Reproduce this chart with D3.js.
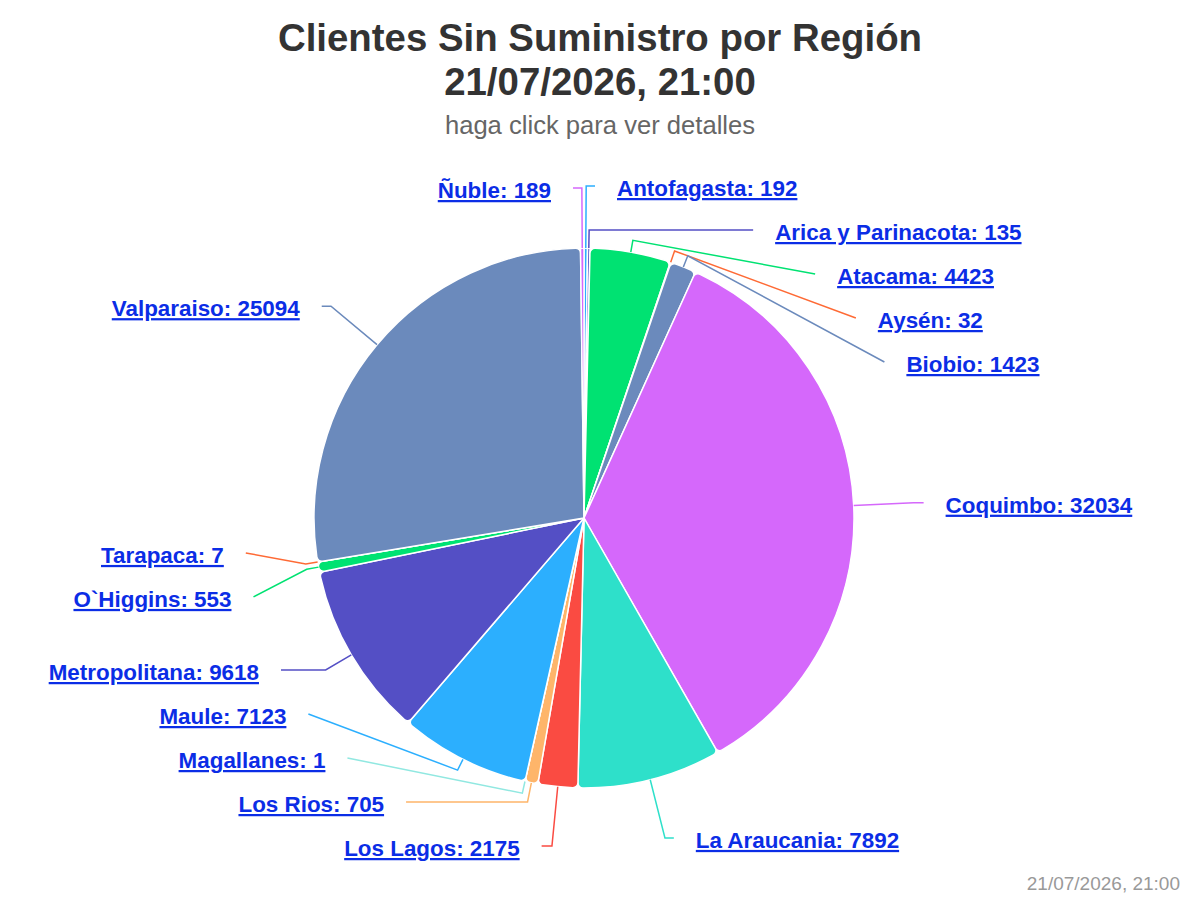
<!DOCTYPE html>
<html>
<head>
<meta charset="utf-8">
<script src="https://cdn.jsdelivr.net/npm/d3@7"></script>
<style>
  body { margin: 0; background: #fff; }
  text { font-family: "Liberation Sans", Arial, Helvetica, sans-serif; }
</style>
</head>
<body>
<div id="chart"></div>
<script>
// data
const regions = ["Antofagasta", "Arica y Parinacota", "Atacama", "Aysén", "Biobio", "Coquimbo",
    "La Araucania", "Los Lagos", "Los Rios", "Magallanes", "Maule", "Metropolitana",
    "O`Higgins", "Tarapaca", "Valparaiso", "Ñuble"];
const clients = [192, 135, 4423, 32, 1423, 32034, 7892, 2175, 705, 1, 7123, 9618, 553, 7, 25094, 189];
const colors = ["#2caffe", "#544fc5", "#00e272", "#fe6a35", "#6b8abc", "#d568fb", "#2ee0ca",
    "#fa4b42", "#feb56a", "#91e8e1"];
const titleLines = ["Clientes Sin Suministro por Región", "21/07/2026, 21:00"];
const subtitle = "haga click para ver detalles";
const credits = "21/07/2026, 21:00";

const width = 1200, height = 900;
const cx = 584, cy = 518, radius = 270;
const labelRadius = 330;   // natural label position
const xRadius = 329;       // used to place labels horizontally
const labelTop = 186 - cy, labelBottom = 846 - cy, labelGap = 44;

const svg = d3.select("#chart")
    .append("svg")
    .attr("width", width)
    .attr("height", height);

// titles
svg.selectAll("text.title")
    .data(titleLines)
    .join("text")
    .attr("class", "title")
    .attr("x", width / 2)
    .attr("y", (d, i) => 51 + i * 44)
    .attr("text-anchor", "middle")
    .attr("fill", "#333333")
    .style("font-size", "38.4px")
    .style("font-weight", "bold")
    .text(d => d);

svg.append("text")
    .attr("x", width / 2)
    .attr("y", 134)
    .attr("text-anchor", "middle")
    .attr("fill", "#666666")
    .style("font-size", "25.6px")
    .text(subtitle);

svg.append("text")
    .attr("x", 1180)
    .attr("y", 890)
    .attr("text-anchor", "end")
    .attr("fill", "#999999")
    .style("font-size", "19px")
    .text(credits);

const data = regions.map((name, i) => ({ name, value: clients[i], color: colors[i % colors.length] }));

const pie = d3.pie().value(d => d.value).sort(null);
const arcs = pie(data);
const arc = d3.arc().innerRadius(0).outerRadius(radius).cornerRadius(5);

const g = svg.append("g").attr("transform", `translate(${cx},${cy})`);

g.selectAll("path.slice")
    .data(arcs)
    .join("path")
    .attr("class", "slice")
    .attr("d", arc)
    .attr("fill", d => d.data.color)
    .attr("stroke", "#ffffff")
    .attr("stroke-width", 1.5)
    .attr("stroke-linejoin", "round");

// label layout, roughly the way the original pie spreads its labels
arcs.forEach(a => {
    a.mid = (a.startAngle + a.endAngle) / 2;
    a.dir = [Math.sin(a.mid), -Math.cos(a.mid)];
    a.side = a.mid < Math.PI ? 1 : -1;
    a.target = labelRadius * a.dir[1];
});

function distribute(items, lo, hi, gap) {
    items.sort((a, b) => a.target - b.target);
    const groups = items.map(d => ({ items: [d] }));
    const place = grp => {
        const n = grp.items.length;
        const mean = d3.mean(grp.items, d => d.target);
        grp.start = Math.max(lo, Math.min(mean - (n - 1) * gap / 2, hi - (n - 1) * gap));
    };
    groups.forEach(place);
    let i = 1;
    while (i < groups.length) {
        const prev = groups[i - 1], cur = groups[i];
        if (cur.start < prev.start + prev.items.length * gap) {
            prev.items = prev.items.concat(cur.items);
            groups.splice(i, 1);
            place(prev);
            i = 1;
        } else {
            i++;
        }
    }
    groups.forEach(grp => grp.items.forEach((d, k) => { d.ly = grp.start + k * gap; }));
}

distribute(arcs.filter(a => a.side > 0), labelTop, labelBottom, labelGap);
distribute(arcs.filter(a => a.side < 0), labelTop, labelBottom, labelGap);

function getX(ly, side) {
    const dy = ly - 0.5;
    const h = Math.abs(dy) >= xRadius ? 0 : Math.sqrt(xRadius * xRadius - dy * dy);
    return side * h;
}

function connectorPath(a) {
    const lx = getX(a.ly, a.side) + a.side * 11;
    const touch = [radius * a.dir[0], radius * a.dir[1]];
    const brk = [(radius + 12) * a.dir[0], (radius + 12) * a.dir[1]];
    const pts = [[lx, a.ly]];
    let crooked = false;
    if (Math.abs(a.dir[1]) > 1e-6) {
        const t = a.ly / a.dir[1];
        if (t > radius) {
            const crookX = t * a.dir[0];
            if (a.side * (lx - crookX) >= 0 && a.side * (crookX - touch[0]) >= -1) {
                pts.push([crookX, a.ly]);
                crooked = true;
            }
        }
    }
    if (!crooked) pts.push(brk);
    pts.push(touch);
    return d3.line()(pts);
}

g.selectAll("path.connector")
    .data(arcs)
    .join("path")
    .attr("class", "connector")
    .attr("d", connectorPath)
    .attr("fill", "none")
    .attr("stroke", d => d.data.color)
    .attr("stroke-width", 1.5);

g.selectAll("text.label")
    .data(arcs)
    .join("text")
    .attr("class", "label")
    .attr("x", d => getX(d.ly, d.side) + d.side * 33)
    .attr("y", d => d.ly + 10)
    .attr("text-anchor", d => d.side > 0 ? "start" : "end")
    .attr("fill", "#0b2de6")
    .style("font-size", "22.4px")
    .style("font-weight", "bold")
    .style("text-decoration", "underline")
    .style("cursor", "pointer")
    .text(d => `${d.data.name}: ${d.data.value}`);
</script>
</body>
</html>
